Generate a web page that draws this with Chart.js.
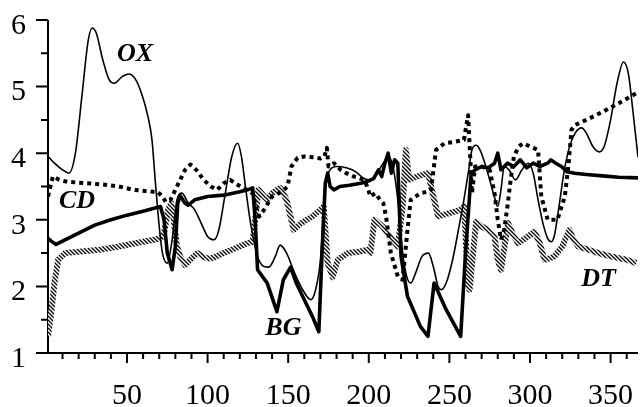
<!DOCTYPE html>
<html>
<head>
<meta charset="utf-8">
<script src="https://cdn.jsdelivr.net/npm/chart.js@4.4.0/dist/chart.umd.min.js"></script>
<style>
  html, body { margin: 0; padding: 0; background: #fff; }
  #wrap { width: 640px; height: 407px; }
</style>
</head>
<body>
<div id="wrap"><canvas id="chart" width="640" height="407"></canvas></div>
<script>
// day of year / value pairs for each curve
var oxDays = [1, 5, 10, 14, 18, 22, 26, 28.5, 31, 35, 39, 42, 47, 51, 55, 59, 63, 65.5, 67.5, 70,
  72, 75, 78, 81, 84, 88, 92, 96, 100, 104, 107, 111, 115, 118.6, 121, 124, 127, 131, 135, 138,
  142, 145, 149, 154, 159, 164, 167, 170, 173, 176, 180, 186, 192, 197, 201, 205, 209, 212, 215, 218,
  221, 223.5, 226, 229, 233, 237, 240, 243, 245, 248, 252, 256, 259, 262, 264, 266.5, 269, 272, 275, 278,
  280, 282, 284, 287, 291, 295, 299, 302, 305, 308, 311, 313, 315, 318, 321, 324, 328, 332, 335, 339,
  343, 346, 350, 354, 358, 361, 364, 367];
var oxValues = [3.95, 3.85, 3.75, 3.70, 4.0, 4.85, 5.7, 5.88, 5.8, 5.4, 5.1, 5.05, 5.15, 5.19, 5.12, 4.9, 4.55, 4.2, 3.6, 2.9,
  2.5, 2.35, 2.7, 3.3, 3.4, 3.25, 3.15, 2.95, 2.75, 2.70, 2.85, 3.4, 3.95, 4.15, 3.95, 3.4, 2.9, 2.45, 2.3, 2.29,
  2.45, 2.62, 2.5, 2.2, 1.95, 1.80, 1.95, 2.4, 3.5, 3.75, 3.8, 3.78, 3.72, 3.62, 3.6, 3.7, 3.85, 3.95, 3.8, 3.3,
  2.5, 2.15, 2.05, 2.2, 2.45, 2.5, 2.3, 2.0, 1.95, 2.05, 2.4, 2.9, 3.3, 3.75, 4.05, 4.12, 4.05, 3.85, 3.6, 3.34,
  3.2, 3.45, 3.8, 3.75, 3.6, 3.75, 3.85, 3.7, 3.3, 2.95, 2.72, 2.67, 2.75, 3.2, 3.7, 4.05, 4.3, 4.38, 4.3, 4.1,
  4.02, 4.1, 4.5, 5.05, 5.37, 5.2, 4.6, 3.94];

var bgDays = [1, 3, 6, 10, 20, 30, 40, 50, 60, 70.8, 73, 75, 78, 80, 81.5, 83, 86, 88, 92, 100,
  110, 120, 126, 128, 129.5, 131, 137, 143, 147, 151.5, 155, 160, 165, 169, 171, 173, 174.5, 176, 178.4, 182,
  188, 195, 199.5, 203, 206, 208, 210, 212, 214, 216, 218, 220, 224, 232, 236.7, 240.5, 248, 257, 260, 263.5,
  266, 270, 274, 278, 280, 282, 286, 290, 294, 298, 302, 306, 311, 313, 316, 319.5, 323, 327.6, 335, 345,
  355, 367];
var bgValues = [2.72, 2.68, 2.63, 2.68, 2.8, 2.92, 3.0, 3.07, 3.13, 3.2, 3.0, 2.5, 2.25, 2.6, 3.25, 3.36, 3.25, 3.22, 3.3, 3.35,
  3.37, 3.42, 3.46, 3.48, 3.0, 2.25, 2.05, 1.62, 2.1, 2.29, 2.05, 1.8, 1.55, 1.32, 2.5, 3.55, 3.7, 3.5, 3.45, 3.5,
  3.52, 3.55, 3.58, 3.62, 3.75, 3.65, 3.85, 4.0, 3.7, 3.9, 3.85, 2.45, 1.85, 1.4, 1.25, 2.05, 1.65, 1.25, 2.5, 3.7,
  3.75, 3.8, 3.78, 3.85, 4.0, 3.75, 3.85, 3.8, 3.9, 3.78, 3.85, 3.8, 3.85, 3.9, 3.85, 3.8, 3.72, 3.7, 3.68, 3.66,
  3.64, 3.63];

var cdDays = [1, 4, 8, 13, 25, 35, 45, 54, 66.4, 69, 72, 74, 77, 80, 83, 86, 89.4, 93, 97.6, 102,
  106, 110, 114, 117, 120.4, 124, 128, 130, 132, 135, 140, 146, 149.6, 152, 155.8, 160, 166, 170, 172.5, 174,
  175, 178.4, 182.5, 186, 190.7, 197, 199, 201, 204, 207, 209, 210.7, 213.7, 218, 221, 224, 226, 232, 236.7, 238.6,
  241.7, 247, 253, 259, 261.6, 263, 264, 266, 270, 275, 278, 280, 282, 284, 286, 288, 290, 293, 295.8, 300,
  305, 307, 311, 317, 321.6, 324, 325.7, 327.6, 335, 345, 355, 366];
var cdValues = [3.35, 3.65, 3.6, 3.57, 3.55, 3.53, 3.5, 3.45, 3.42, 3.42, 3.35, 3.27, 3.3, 3.45, 3.6, 3.75, 3.83, 3.75, 3.6, 3.5,
  3.45, 3.55, 3.6, 3.55, 3.5, 3.45, 3.4, 3.2, 3.05, 3.15, 3.35, 3.42, 3.5, 3.8, 3.93, 3.95, 3.94, 3.92, 3.95, 4.08,
  3.8, 3.85, 3.75, 3.7, 3.65, 3.6, 3.5, 3.35, 3.4, 3.3, 3.25, 3.05, 2.5, 2.15, 2.1, 2.85, 3.3, 3.4, 3.42, 3.45,
  4.05, 4.15, 4.17, 4.2, 4.57, 3.9, 3.4, 3.8, 3.8, 3.75, 3.4, 3.0, 2.7, 2.85, 3.2, 3.6, 3.95, 4.1, 4.15, 4.1,
  4.05, 3.35, 3.0, 3.0, 3.35, 3.85, 4.35, 4.42, 4.5, 4.62, 4.75, 4.9];

var dtDays = [1, 3, 5, 7.3, 11.6, 20, 33, 45, 60, 70.8, 73, 75.5, 77.5, 79, 81, 83, 86, 90, 93.6, 97,
  100, 103.6, 110, 118, 124.8, 128, 130, 131.5, 134, 137, 140, 145, 149, 153.4, 158, 165, 170, 172, 174.5, 177.6,
  180.7, 187, 194, 199.5, 201, 203.5, 208.6, 213, 218, 221, 223, 225, 230, 236.7, 243, 250, 257, 259.2, 261.6, 262.5,
  266.6, 270, 274, 278, 280, 282, 286.4, 290, 292.7, 297, 302.8, 306, 309, 312, 315.2, 320, 324.5, 327, 330, 340,
  350, 360, 366];
var dtValues = [1.25, 1.6, 2.05, 2.4, 2.5, 2.52, 2.55, 2.6, 2.67, 2.72, 2.8, 3.15, 3.25, 3.0, 2.6, 2.45, 2.32, 2.42, 2.5, 2.45,
  2.42, 2.43, 2.5, 2.58, 2.65, 2.67, 3.1, 3.45, 3.38, 3.3, 3.4, 3.48, 3.3, 2.85, 2.95, 3.05, 3.15, 3.2, 2.35, 2.14,
  2.4, 2.5, 2.52, 2.55, 2.5, 3.0, 2.9, 2.75, 2.6, 3.2, 4.05, 3.6, 3.65, 3.7, 3.05, 3.1, 3.15, 3.2, 2.0, 1.95,
  2.97, 2.9, 2.85, 2.75, 2.4, 2.25, 2.95, 2.75, 2.65, 2.72, 2.82, 2.65, 2.4, 2.42, 2.45, 2.6, 2.85, 2.7, 2.6, 2.52,
  2.45, 2.4, 2.35];

var xTickLabels = [50, 100, 150, 200, 250, 300, 350];
var yTickLabels = [1, 2, 3, 4, 5, 6];

var curveNames = ['OX', 'CD', 'BG', 'DT'];
var nameDays = [55, 19, 147, 342.5];
var nameValues = [5.49, 3.28, 1.375, 2.11];

var serif = "'Liberation Serif', 'Times New Roman', serif";

function pairs(days, vals) {
  var out = [];
  for (var i = 0; i < days.length; i++) out.push({x: days[i], y: vals[i]});
  return out;
}

// hatched stroke for DT
function hatch() {
  var c = document.createElement('canvas');
  c.width = 4; c.height = 4;
  var g = c.getContext('2d');
  g.fillStyle = '#fff';
  g.fillRect(0, 0, 4, 4);
  g.strokeStyle = '#000';
  g.lineWidth = 1.3;
  g.beginPath();
  g.moveTo(-1, -1); g.lineTo(5, 5);
  g.moveTo(-1, 3); g.lineTo(1, 5);
  g.moveTo(3, -1); g.lineTo(5, 1);
  g.stroke();
  return g.createPattern(c, 'repeat');
}

var axisLines = {
  id: 'axisLines',
  beforeDatasetsDraw(chart) {
    var ctx = chart.ctx, x = chart.scales.x, y = chart.scales.y;
    var left = chart.chartArea.left, right = chart.chartArea.right;
    var bottom = y.getPixelForValue(1);
    ctx.save();
    ctx.strokeStyle = '#000';
    ctx.lineWidth = 2;
    ctx.beginPath();
    ctx.moveTo(left, y.getPixelForValue(6));
    ctx.lineTo(left, bottom);
    ctx.lineTo(right, bottom);
    for (var v = 1; v <= 6; v += 0.5) {
      var py = y.getPixelForValue(v);
      ctx.moveTo(left - (v % 1 === 0 ? 12 : 7), py);
      ctx.lineTo(left, py);
    }
    for (var d = 10; d <= 360; d += 10) {
      var px = x.getPixelForValue(d);
      ctx.moveTo(px, bottom);
      ctx.lineTo(px, bottom + (d % 50 === 0 ? 10 : 6));
    }
    ctx.stroke();
    ctx.restore();
  }
};

var curveLabels = {
  id: 'curveLabels',
  afterDatasetsDraw(chart) {
    var ctx = chart.ctx, x = chart.scales.x, y = chart.scales.y;
    ctx.save();
    ctx.fillStyle = '#000';
    ctx.font = 'italic bold 26px ' + serif;
    ctx.textAlign = 'center';
    ctx.textBaseline = 'middle';
    for (var i = 0; i < curveNames.length; i++) {
      ctx.fillText(curveNames[i], x.getPixelForValue(nameDays[i]), y.getPixelForValue(nameValues[i]));
    }
    ctx.restore();
  }
};

function drawChart() {
  var ctx = document.getElementById('chart').getContext('2d');
  new Chart(ctx, {
    type: 'line',
    data: {
      datasets: [
        {label: 'OX', data: pairs(oxDays, oxValues), borderColor: '#000', borderWidth: 1.6,
          cubicInterpolationMode: 'monotone', order: 1},
        {label: 'BG', data: pairs(bgDays, bgValues), borderColor: '#000', borderWidth: 3.6,
          tension: 0, borderJoinStyle: 'round', order: 2},
        {label: 'CD', data: pairs(cdDays, cdValues), borderColor: '#000', borderWidth: 4,
          borderDash: [4, 4], tension: 0, borderJoinStyle: 'round', order: 3},
        {label: 'DT', data: pairs(dtDays, dtValues), borderColor: hatch(), borderWidth: 6,
          tension: 0, borderJoinStyle: 'round', order: 4}
      ]
    },
    options: {
      responsive: false,
      animation: false,
      devicePixelRatio: 1,
      layout: {padding: {top: 20, right: 2, left: 0, bottom: 0}},
      elements: {point: {radius: 0}, line: {fill: false}},
      plugins: {legend: {display: false}, tooltip: {enabled: false}},
      scales: {
        x: {
          type: 'linear', min: 1, max: 367,
          grid: {display: false, drawTicks: false},
          border: {display: false},
          ticks: {color: '#000', font: {family: serif, size: 30}, padding: 25, maxRotation: 0},
          afterBuildTicks: function(s) { s.ticks = xTickLabels.map(function(v) { return {value: v}; }); },
          afterFit: function(s) { s.height = 54; s.paddingLeft = 0; s.paddingRight = 0; }
        },
        y: {
          min: 1, max: 6,
          grid: {display: false, drawTicks: false},
          border: {display: false},
          ticks: {color: '#000', font: {family: serif, size: 30, lineHeight: 1}, padding: 22, labelOffset: 6},
          afterBuildTicks: function(s) { s.ticks = yTickLabels.map(function(v) { return {value: v}; }); },
          afterFit: function(s) { s.width = 48; s.paddingTop = 0; s.paddingBottom = 0; }
        }
      }
    },
    plugins: [axisLines, curveLabels]
  });
}

Promise.all([
  document.fonts.load("30px 'Liberation Serif'"),
  document.fonts.load("italic bold 26px 'Liberation Serif'")
]).then(drawChart, drawChart);
</script>
</body>
</html>
